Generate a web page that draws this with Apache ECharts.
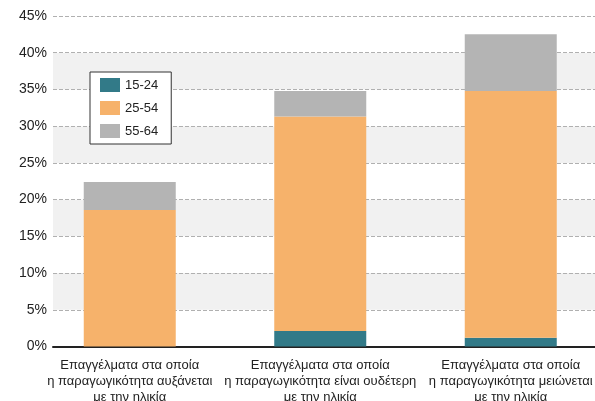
<!DOCTYPE html>
<html>
<head>
<meta charset="utf-8">
<script src="https://cdn.jsdelivr.net/npm/echarts@6/dist/echarts.min.js"></script>
<style>
html,body{margin:0;padding:0;background:#fff;}
#chart{width:595px;height:401px;}
</style>
</head>
<body>
<div id="chart"></div>
<script>
const categories = [
  'Επαγγέλματα στα οποία\nη παραγωγικότητα αυξάνεται\nμε την ηλικία',
  'Επαγγέλματα στα οποία\nη παραγωγικότητα είναι ουδέτερη\nμε την ηλικία',
  'Επαγγέλματα στα οποία\nη παραγωγικότητα μειώνεται\nμε την ηλικία'
];
const seriesNames = ['15-24', '25-54', '55-64'];
const age15to24 = [0, 2.1, 1.2];
const age25to54 = [18.6, 29.2, 33.6];
const age55to64 = [3.8, 3.5, 7.7];
const yMin = 0, yMax = 45, yStep = 5;

const colors = ['#327a88', '#f6b26b', '#b4b4b4'];
const font = 'Liberation Sans';
const chart = echarts.init(document.getElementById('chart'), null, {renderer: 'canvas'});

const dataSets = [age15to24, age25to54, age55to64];

chart.setOption({
  animation: false,
  backgroundColor: '#ffffff',
  textStyle: {fontFamily: font},
  grid: [
    {left: 53, right: 0, top: 16, bottom: 54.5, outerBoundsMode: 'none', containLabel: false},
    {left: 34.5, width: 571.5, top: 16, bottom: 54.5, outerBoundsMode: 'none', containLabel: false}
  ],
  legend: {
    data: seriesNames,
    orient: 'vertical',
    left: 90,
    top: 72,
    icon: 'rect',
    itemWidth: 20,
    itemHeight: 14,
    itemGap: 9,
    padding: [6, 13, 6, 10],
    borderColor: '#333',
    borderWidth: 1,
    backgroundColor: '#fff',
    textStyle: {fontFamily: font, fontSize: 13, color: '#222'}
  },
  xAxis: [
    {
      gridIndex: 0, type: 'category', data: categories,
      axisLine: {show: true, lineStyle: {color: '#222', width: 2}},
      axisTick: {show: false}, axisLabel: {show: false}, splitLine: {show: false}
    },
    {
      gridIndex: 1, type: 'category', data: categories,
      axisLine: {show: false}, axisTick: {show: false},
      axisLabel: {
        margin: 11, fontFamily: font, fontSize: 13, lineHeight: 16, color: '#222',
        interval: 0, align: 'center'
      }
    }
  ],
  yAxis: [
    {
      gridIndex: 0, type: 'value', min: yMin, max: yMax, interval: yStep,
      axisLine: {show: false}, axisTick: {show: false},
      axisLabel: {formatter: '{value}%', fontFamily: font, fontSize: 14, color: '#222', margin: 6},
      splitLine: {show: true, lineStyle: {color: '#b0b0b0', type: [4, 2], width: 1}},
      splitArea: {show: true, areaStyle: {color: ['#ffffff', '#f1f1f1']}}
    },
    {
      gridIndex: 1, type: 'value', min: yMin, max: yMax, interval: yStep,
      show: false, splitLine: {show: false}
    }
  ],
  series: seriesNames.map((name, i) => ({
    name: name,
    type: 'bar',
    stack: 'total',
    xAxisIndex: 1,
    yAxisIndex: 1,
    barWidth: 92,
    itemStyle: {color: colors[i]},
    data: dataSets[i]
  }))
});
</script>
</body>
</html>
